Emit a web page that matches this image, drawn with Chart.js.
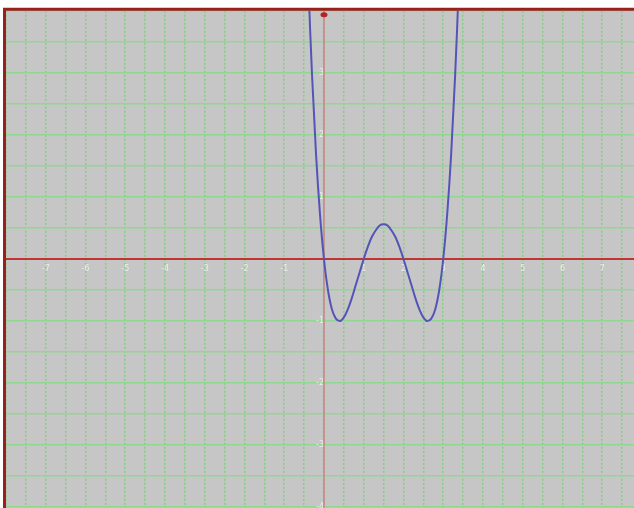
<!DOCTYPE html>
<html>
<head>
<meta charset="utf-8">
<script src="https://cdn.jsdelivr.net/npm/chart.js@4.4.1/dist/chart.umd.min.js"></script>
<style>
  html, body { margin: 0; padding: 0; background: #ffffff; overflow: hidden; }
  #wrap { width: 634px; height: 508px; position: relative; overflow: hidden; }
</style>
</head>
<body>
<div id="wrap"><canvas id="c" width="634" height="518"></canvas></div>
<script>
// Curve samples
const xValues = [-0.4, -0.35, -0.3, -0.2, -0.1, 0, 0.1, 0.2, 0.3, 0.4, 0.5, 0.6, 0.7, 0.8, 0.9, 1.0,
                 1.1, 1.2, 1.3, 1.4, 1.5, 1.6, 1.7, 1.8, 1.9, 2.0, 2.1, 2.2, 2.3, 2.4, 2.5, 2.6,
                 2.7, 2.8, 2.9, 3.0, 3.1, 3.2, 3.3, 3.35, 3.4];
const yValues = [4.57, 3.72, 2.96, 1.69, 0.72, 0, -0.50, -0.81, -0.96, -1.00, -0.94, -0.81, -0.63, -0.42, -0.21, 0,
                 0.19, 0.35, 0.46, 0.54, 0.56, 0.54, 0.46, 0.35, 0.19, 0, -0.21, -0.42, -0.63, -0.81, -0.94, -1.00,
                 -0.96, -0.81, -0.50, 0, 0.72, 1.69, 2.96, 3.72, 4.57];

// Tick labels
const xTickValues = [-7, -6, -5, -4, -3, -2, -1, 1, 2, 3, 4, 5, 6, 7];
const xTickLabels = ['-7', '-6', '-5', '-4', '-3', '-2', '-1', '1', '2', '3', '4', '5', '6', '7'];
const yTickValues = [-4, -3, -2, -1, 1, 2, 3];
const yTickLabels = ['-4', '-3', '-2', '-1', '1', '2', '3'];

// Grid positions (every half unit)
const xGrid = [-8, -7.5, -7, -6.5, -6, -5.5, -5, -4.5, -4, -3.5, -3, -2.5, -2, -1.5, -1, -0.5, 0,
               0.5, 1, 1.5, 2, 2.5, 3, 3.5, 4, 4.5, 5, 5.5, 6, 6.5, 7, 7.5];
const yGrid = [-4, -3.5, -3, -2.5, -2, -1.5, -1, -0.5, 0, 0.5, 1, 1.5, 2, 2.5, 3, 3.5, 4];

const points = xValues.map((x, i) => ({ x: x, y: yValues[i] }));

const bgPlugin = {
  id: 'bg',
  beforeDraw(chart) {
    const { ctx, chartArea: a } = chart;
    ctx.save();
    ctx.fillStyle = '#c6c6c6';
    ctx.fillRect(a.left, a.top, a.right - a.left, a.bottom - a.top + 20);
    ctx.restore();
  },
  beforeDatasetsDraw(chart) {
    const { ctx, chartArea: a, scales } = chart;
    const x0 = scales.x.getPixelForValue(0);
    const y0 = scales.y.getPixelForValue(0);
    ctx.save();
    ctx.strokeStyle = '#c88484';
    ctx.lineWidth = 1.5;
    ctx.beginPath();
    ctx.moveTo(x0, a.top);
    ctx.lineTo(x0, a.bottom + 20);
    ctx.stroke();
    ctx.strokeStyle = '#c23434';
    ctx.lineWidth = 2;
    ctx.beginPath();
    ctx.moveTo(a.left, y0);
    ctx.lineTo(a.right, y0);
    ctx.stroke();
    ctx.fillStyle = '#b42424';
    ctx.beginPath();
    ctx.ellipse(x0, a.top + 4, 3.5, 2.5, 0, 0, Math.PI * 2);
    ctx.fill();
    ctx.restore();
  },
  afterDraw(chart) {
    const { ctx, chartArea: a } = chart;
    ctx.save();
    ctx.strokeStyle = '#9c1f1f';
    ctx.lineWidth = 3;
    ctx.beginPath();
    ctx.moveTo(a.left - 1.5, a.bottom + 20);
    ctx.lineTo(a.left - 1.5, a.top - 1.5);
    ctx.lineTo(a.right, a.top - 1.5);
    ctx.stroke();
    ctx.restore();
  }
};

function labelFor(values, labels) {
  return function (v) {
    const i = values.findIndex(t => Math.abs(t - v) < 1e-6);
    return i >= 0 ? labels[i] : '';
  };
}

new Chart(document.getElementById('c'), {
  type: 'scatter',
  data: {
    datasets: [{
      data: points,
      showLine: true,
      borderColor: '#5454b8',
      borderWidth: 2,
      pointRadius: 0,
      cubicInterpolationMode: 'monotone',
      fill: false
    }]
  },
  options: {
    responsive: false,
    animation: false,
    layout: { padding: { left: 6, top: 8, right: 0, bottom: 0 } },
    plugins: { legend: { display: false }, tooltip: { enabled: false } },
    scales: {
      x: {
        type: 'linear',
        position: { y: 0 },
        min: -8,
        max: 7.8,
        afterBuildTicks(scale) { scale.ticks = xGrid.map(v => ({ value: v })); },
        grid: { color: '#80d080', lineWidth: 1.5, drawTicks: false },
        border: { display: false, dash: [2, 2] },
        ticks: {
          autoSkip: false, maxRotation: 0, padding: 5,
          color: '#ececec', font: { size: 8, family: 'DejaVu Sans' },
          callback: labelFor(xTickValues, xTickLabels)
        }
      },
      y: {
        type: 'linear',
        position: { x: 0 },
        min: -4,
        max: 4,
        afterBuildTicks(scale) { scale.ticks = yGrid.map(v => ({ value: v })); },
        grid: { color: '#8fd88f', lineWidth: 1.5, drawTicks: false },
        border: { display: false },
        ticks: {
          autoSkip: false, padding: 6,
          color: '#ececec', font: { size: 8, family: 'DejaVu Sans' },
          callback: labelFor(yTickValues, yTickLabels)
        }
      }
    }
  },
  plugins: [bgPlugin]
});
</script>
</body>
</html>
